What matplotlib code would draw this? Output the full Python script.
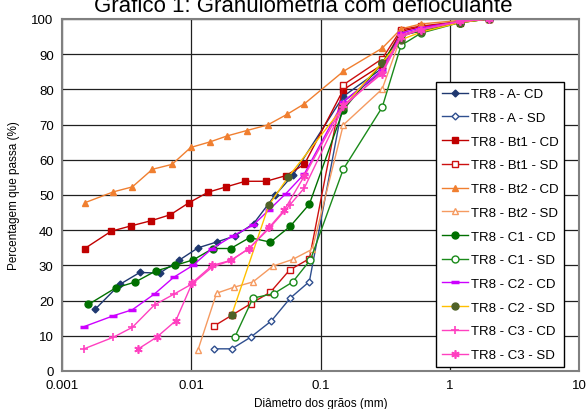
import matplotlib
matplotlib.use("Agg")
import matplotlib.pyplot as plt
from matplotlib.ticker import FixedLocator, FixedFormatter, NullLocator

plt.rcParams['font.family'] = ['Liberation Sans', 'DejaVu Sans']

title = "Gráfico 1: Granulometria com defloculante"
xlabel = "Diâmetro dos grãos (mm)"
ylabel = "Percentagem que passa (%)"
xticks = [0.001, 0.01, 0.1, 1, 10]
xticklabels = ["0.001", "0.01", "0.1", "1", "10"]
yticks = [0, 10, 20, 30, 40, 50, 60, 70, 80, 90, 100]

labels = ["TR8 - A- CD", "TR8 - A - SD", "TR8 - Bt1 - CD", "TR8 - Bt1 - SD",
          "TR8 - Bt2 - CD", "TR8 - Bt2 - SD", "TR8 - C1 - CD", "TR8 - C1 - SD",
          "TR8 - C2 - CD", "TR8 - C2 - SD", "TR8 - C3 - CD", "TR8 - C3 - SD"]

a_cd_x = [0.0018, 0.0028, 0.004, 0.0057, 0.008, 0.0113, 0.0159, 0.0219, 0.0304, 0.0444, 0.061, 0.15, 0.3, 0.42, 0.6, 1.2, 2.0]
a_cd_y = [17.5, 24.6, 28.0, 27.8, 31.4, 35.0, 36.7, 38.4, 41.9, 49.9, 55.6, 78.0, 86.0, 95.5, 97.0, 99.3, 100]

a_sd_x = [0.0149, 0.0206, 0.0288, 0.0416, 0.0583, 0.082, 0.15, 0.3, 0.42, 0.6, 1.2, 2.0]
a_sd_y = [6.3, 6.3, 9.6, 14.2, 20.7, 25.4, 76.5, 85.0, 95.0, 97.0, 99.3, 100]

bt1_cd_x = [0.0015, 0.0024, 0.0034, 0.0049, 0.0069, 0.0096, 0.0135, 0.0186, 0.0262, 0.038, 0.054, 0.075, 0.15, 0.3, 0.42, 0.6, 1.2, 2.0]
bt1_cd_y = [34.8, 39.7, 41.2, 42.7, 44.4, 47.8, 50.8, 52.3, 53.9, 53.9, 55.5, 58.7, 79.9, 87.0, 96.5, 97.8, 99.0, 100]

bt1_sd_x = [0.0149, 0.0205, 0.0288, 0.041, 0.0577, 0.082, 0.15, 0.3, 0.42, 0.6, 1.2, 2.0]
bt1_sd_y = [12.7, 15.8, 19.1, 22.4, 28.7, 31.9, 81.3, 88.7, 97.0, 98.0, 99.3, 100]

bt2_cd_x = [0.0015, 0.0025, 0.0035, 0.005, 0.0071, 0.0099, 0.014, 0.019, 0.0268, 0.039, 0.055, 0.075, 0.15, 0.3, 0.42, 0.6, 1.2, 2.0]
bt2_cd_y = [47.8, 50.9, 52.3, 57.3, 58.7, 63.5, 65.1, 66.8, 68.3, 69.9, 72.9, 75.9, 85.1, 91.7, 97.2, 98.6, 99.6, 100]

bt2_sd_x = [0.0113, 0.0157, 0.0214, 0.030, 0.0428, 0.061, 0.0863, 0.15, 0.3, 0.42, 0.6, 1.2, 2.0]
bt2_sd_y = [6.1, 22.1, 23.8, 25.3, 29.8, 31.7, 34.6, 69.9, 80.1, 95.0, 97.0, 99.3, 100]

c1_cd_x = [0.0016, 0.0026, 0.0037, 0.0053, 0.0075, 0.0104, 0.0147, 0.0202, 0.0283, 0.041, 0.0583, 0.082, 0.15, 0.3, 0.42, 0.6, 1.2, 2.0]
c1_cd_y = [18.9, 23.6, 25.3, 28.4, 30.0, 31.6, 34.8, 34.8, 37.9, 36.6, 41.1, 47.4, 74.2, 87.5, 95.5, 96.5, 99.0, 100]

c1_sd_x = [0.0217, 0.030, 0.0436, 0.061, 0.0836, 0.15, 0.3, 0.42, 0.6, 1.2, 2.0]
c1_sd_y = [9.6, 20.7, 22.0, 25.3, 31.6, 57.3, 74.9, 92.5, 96.0, 99.0, 100]

c2_cd_x = [0.00148, 0.0025, 0.0035, 0.0052, 0.0073, 0.0103, 0.0145, 0.021, 0.030, 0.0398, 0.054, 0.075, 0.15, 0.3, 0.42, 0.6, 1.2, 2.0]
c2_cd_y = [12.6, 15.7, 17.4, 21.9, 26.6, 30.0, 34.8, 38.4, 41.4, 45.7, 50.4, 56.0, 76.5, 85.5, 96.0, 97.5, 99.3, 100]

c2_sd_x = [0.0205, 0.0398, 0.056, 0.15, 0.3, 0.42, 0.6, 1.2, 2.0]
c2_sd_y = [15.8, 47.1, 55.0, 75.0, 87.6, 94.1, 96.3, 99.0, 100]

c3_cd_x = [0.00148, 0.0025, 0.0035, 0.0052, 0.0074, 0.0102, 0.0145, 0.0202, 0.028, 0.0403, 0.0577, 0.075, 0.15, 0.3, 0.42, 0.6, 1.2, 2.0]
c3_cd_y = [6.3, 9.6, 12.4, 18.8, 21.9, 24.8, 29.5, 31.4, 34.8, 40.6, 47.1, 52.0, 75.0, 85.0, 95.5, 97.0, 99.3, 100]

c3_sd_x = [0.0039, 0.0054, 0.0076, 0.0102, 0.0145, 0.0202, 0.028, 0.0403, 0.0524, 0.075, 0.15, 0.3, 0.42, 0.6, 1.2, 2.0]
c3_sd_y = [6.3, 9.6, 14.3, 25.1, 30.0, 31.4, 34.8, 40.9, 45.7, 55.4, 75.5, 84.5, 95.0, 97.0, 99.3, 100]

series = [
    (a_cd_x, a_cd_y, dict(color='#1F3870', marker='D', ms=3.5, mfc='#1F3870', mec='#1F3870')),
    (a_sd_x, a_sd_y, dict(color='#2F4F8F', marker='D', ms=3.5, mfc='white', mec='#2F4F8F')),
    (bt1_cd_x, bt1_cd_y, dict(color='#C00000', marker='s', ms=5, mfc='#C00000', mec='#C00000')),
    (bt1_sd_x, bt1_sd_y, dict(color='#CC1010', marker='s', ms=5, mfc='white', mec='#CC1010')),
    (bt2_cd_x, bt2_cd_y, dict(color='#F07F30', marker='^', ms=5, mfc='#F07F30', mec='#F07F30')),
    (bt2_sd_x, bt2_sd_y, dict(color='#F59A60', marker='^', ms=5, mfc='white', mec='#F59A60')),
    (c1_cd_x, c1_cd_y, dict(color='#007000', marker='o', ms=5, mfc='#007000', mec='#007000')),
    (c1_sd_x, c1_sd_y, dict(color='#1A8A1A', marker='o', ms=5, mfc='white', mec='#1A8A1A')),
    (c2_cd_x, c2_cd_y, dict(color='#CC00FF', marker='_', ms=6, mew=2.5, mfc='#CC00FF', mec='#CC00FF')),
    (c2_sd_x, c2_sd_y, dict(color='#FFC000', marker='o', ms=5, mfc='#4F6228', mec='#4F6228')),
    (c3_cd_x, c3_cd_y, dict(color='#FF40C0', marker='+', ms=6, mew=1.2, mfc='#FF40C0', mec='#FF40C0')),
    (c3_sd_x, c3_sd_y, dict(color='#FF40C0', marker=(6, 2, 0), ms=6, mew=1.2, mfc='#FF40C0', mec='#FF40C0')),
]

fig = plt.figure(figsize=(5.88, 4.10), dpi=100)
ax = fig.add_axes([62/588, 1-372/410, (579-62)/588, (372-20)/410])

for (x, y, st), lab in zip(series, labels):
    ax.plot(x, y, lw=1.0, label=lab, **st)

ax.set_xscale('log')
ax.set_xlim(0.001, 10)
ax.set_ylim(0, 100)
ax.xaxis.set_major_locator(FixedLocator(xticks))
ax.xaxis.set_major_formatter(FixedFormatter(xticklabels))
ax.xaxis.set_minor_locator(NullLocator())
ax.yaxis.set_major_locator(FixedLocator(yticks))
ax.tick_params(axis='both', length=0, labelsize=9.5, pad=6, colors='black')
ax.grid(True, which='major', color='#202020', lw=0.9)
ax.set_axisbelow(True)
for s in ax.spines.values():
    s.set_color('#808080')
    s.set_linewidth(1.5)

ax.set_xlabel(xlabel, fontsize=8.5, labelpad=4)
ax.set_ylabel(ylabel, fontsize=8.5, labelpad=8)

fig.text(0.515, 1-12/410, title, ha='center', va='baseline', fontsize=16)

leg = ax.legend(loc='lower left', bbox_to_anchor=(0.723, 0.011), borderaxespad=0,
                fontsize=9.5, frameon=True, fancybox=False, framealpha=1,
                edgecolor='black', labelspacing=0.87, handlelength=2.0,
                handletextpad=0.2, borderpad=0.45)
leg.get_frame().set_linewidth(1.0)

fig.savefig('out.png', dpi=100)
